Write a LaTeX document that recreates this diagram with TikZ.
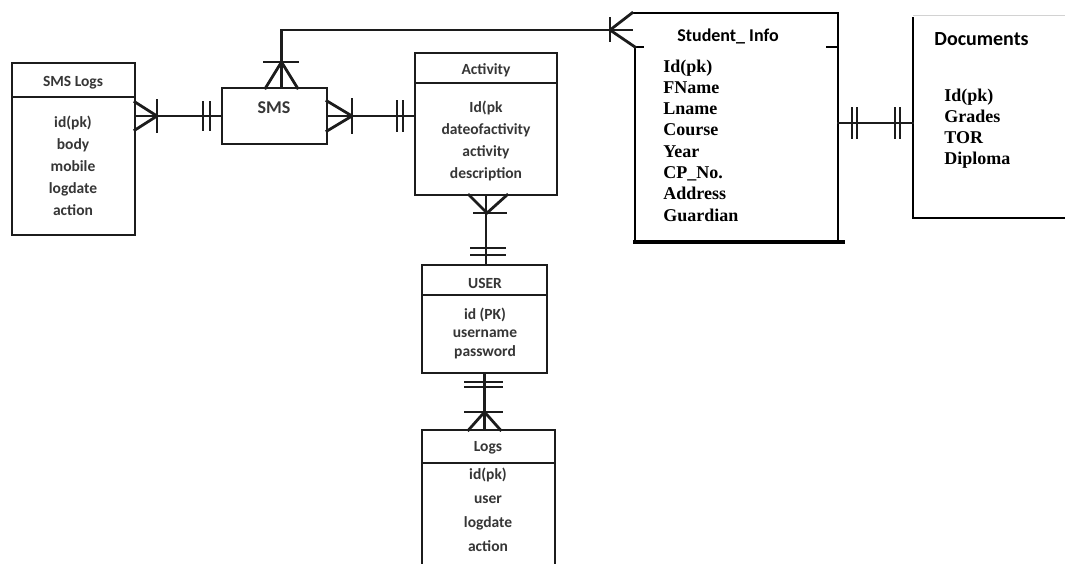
\documentclass[tikz,border=0pt]{standalone}
\usepackage{fontspec}
\setmainfont{Liberation Serif}
\newfontfamily\calfont{Carlito}
\usetikzlibrary{calc}
\definecolor{ink}{HTML}{1C1C1C}
\definecolor{txt}{HTML}{363636}
\begin{document}
\begin{tikzpicture}[x=1pt,y=-1pt,line width=2.8pt,line cap=rect,
  ent/.style={draw=ink,anchor=north west,inner sep=0pt,outer sep=0pt},
  ghost/.style={anchor=north west,inner sep=0pt,outer sep=0pt},
  lnk/.style={draw=ink,line width=2.8pt},
  bar/.style={draw=ink,line width=2.6pt},
  smalltxt/.style={font=\calfont\bfseries\fontsize{15.5}{17}\selectfont,text=txt,inner sep=0pt,anchor=base},
  bigattr/.style={font=\bfseries\fontsize{18}{20}\selectfont,text=black,inner sep=0pt,anchor=base west},
  bighead/.style={font=\calfont\bfseries\fontsize{18}{20}\selectfont,text=black,inner sep=0pt,anchor=base}]
\clip (0,0) rectangle (1065,563);
\fill[white] (0,0) rectangle (1065,563);

% ---------- entity boxes ----------
\node[ent,minimum width=123pt,minimum height=172pt] (smslogs) at (12,63) {};
\draw[ink] ([yshift=-34pt]smslogs.north west) -- ([yshift=-34pt]smslogs.north east);

\node[ent,minimum width=105pt,minimum height=56pt] (sms) at (222,88) {};

\node[ent,minimum width=142pt,minimum height=142pt] (activity) at (415,53) {};
\draw[ink] ([yshift=-30pt]activity.north west) -- ([yshift=-30pt]activity.north east);

\node[ent,minimum width=125pt,minimum height=108pt] (user) at (422,265) {};
\draw[ink] ([yshift=-30pt]user.north west) -- ([yshift=-30pt]user.north east);

\node[ent,minimum width=133pt,minimum height=160pt] (logs) at (422,430) {};
\draw[ink] ([yshift=-33pt]logs.north west) -- ([yshift=-33pt]logs.north east);

% Student_Info (open frame)
\node[ghost,minimum width=206pt,minimum height=229pt] (student) at (632,13) {};
\draw[black,line width=2.6pt] (student.north west) -- (student.north east) -- (student.south east);
\draw[black,line width=2.6pt] ($(student.north west)+(3,34)$) -- ($(student.south west)+(3,0)$);
\draw[black,line width=3.6pt] ($(student.south west)+(3,0)$) -- ($(student.south east)+(5,0)$);
\draw[black,line width=2.4pt] ($(student.north west)+(3,34)$) -- ++(8,0);
\draw[black,line width=2.4pt] ($(student.north east)+(-11,34)$) -- ($(student.north east)+(0,34)$);

% Documents (open frame)
\node[ghost,minimum width=170pt,minimum height=203pt] (docs) at (913,15) {};
\draw[gray!35,line width=1pt] (docs.north west) -- (docs.north east);
\draw[black,line width=2.6pt] ($(docs.north west)+(0,3)$) -- (docs.south west) -- (docs.south east);

% ---------- texts ----------
\node[smalltxt] (slh) at (73,86) {SMS Logs};
\foreach \t [count=\i] in {{id(pk)},{body},{mobile},{logdate},{action}}
  \node[smalltxt] (sl\i) at (73,{127+22*(\i-1)}) {\t};

\node[smalltxt,font=\calfont\bfseries\fontsize{18}{20}\selectfont] (smsh) at (274,113) {SMS};

\node[smalltxt] (acth) at (486,74) {Activity};
\foreach \t [count=\i] in {{Id(pk},{dateofactivity},{activity},{description}}
  \node[smalltxt] (act\i) at (486,{112+22*(\i-1)}) {\t};

\node[smalltxt] (userh) at (485,288) {USER};
\foreach \t [count=\i] in {{id (PK)},{username},{password}}
  \node[smalltxt] (usr\i) at (485,{319+18.5*(\i-1)}) {\t};

\node[smalltxt] (logsh) at (488,451) {Logs};
\foreach \t [count=\i] in {{id(pk)},{user},{logdate},{action}}
  \node[smalltxt] (lg\i) at (488,{479+24*(\i-1)}) {\t};

\node[bighead] (stuh) at (728,41) {Student\_ Info};
\foreach \t [count=\i] in {{Id(pk)},{FName},{Lname},{Course},{Year},{CP\_No.},{Address},{Guardian}}
  \node[bigattr] (stu\i) at (662,{72+21.3*(\i-1)}) {\t};

\node[bighead,anchor=base west,font=\calfont\bfseries\fontsize{20}{22}\selectfont] (doch) at (933,45) {Documents};
\foreach \t [count=\i] in {{Id(pk)},{Grades},{TOR},{Diploma}}
  \node[bigattr] (doc\i) at (943,{101+21*(\i-1)}) {\t};

% ---------- connectors ----------
% SMS Logs -- SMS
\coordinate (p1) at (smslogs.east |- sms.west);
\draw[lnk] (p1) -- (sms.west);
\draw[lnk] ($(p1)+(0,-14)$) -- ($(p1)+(22,0)$) -- ($(p1)+(0,14)$);
\draw[bar] ($(p1)+(22,-16)$) -- ($(p1)+(22,16)$);
\draw[bar] ($(sms.west)+(-19,-14)$) -- ($(sms.west)+(-19,14)$);
\draw[bar] ($(sms.west)+(-12,-14)$) -- ($(sms.west)+(-12,14)$);

% SMS -- Activity
\coordinate (p2) at (sms.east -| activity.west);
\draw[lnk] (sms.east) -- (p2);
\draw[lnk] ($(sms.east)+(0,-15)$) -- ($(sms.east)+(25,0)$) -- ($(sms.east)+(0,15)$);
\draw[bar] ($(sms.east)+(25,-17)$) -- ($(sms.east)+(25,17)$);
\draw[bar] ($(p2)+(-18,-15)$) -- ($(p2)+(-18,15)$);
\draw[bar] ($(p2)+(-12,-15)$) -- ($(p2)+(-12,15)$);

% SMS -- Student_Info
\coordinate (s0) at ($(sms.north)+(7,0)$);
\coordinate (p3) at ($(student.north west)+(0,17)$);
\draw[lnk] (s0) |- (p3);
\draw[lnk] ($(s0)+(-16,0)$) -- ($(s0)+(0,-26)$) -- ($(s0)+(16,0)$);
\draw[bar] ($(s0)+(-17,-26)$) -- ($(s0)+(16,-26)$);
\draw[lnk] (student.north west) -- ($(p3)+(-22,0)$) -- ($(student.north west)+(3,34)$);
\draw[bar] ($(p3)+(-22,-12)$) -- ($(p3)+(-22,11)$);

% Student_Info -- Documents
\coordinate (p4) at ($(student.north east)+(0,110)$);
\coordinate (p5) at (p4 -| docs.west);
\draw[lnk] (p4) -- (p5);
\draw[bar] ($(p4)+(14,-15)$) -- ($(p4)+(14,15)$);
\draw[bar] ($(p4)+(19,-15)$) -- ($(p4)+(19,15)$);
\draw[bar] ($(p5)+(-18,-15)$) -- ($(p5)+(-18,15)$);
\draw[bar] ($(p5)+(-13,-15)$) -- ($(p5)+(-13,15)$);

% Activity -- USER
\coordinate (p6) at (activity.south |- user.north);
\draw[lnk] (activity.south) -- (p6);
\draw[lnk] ($(activity.south)+(-17,0)$) -- ($(activity.south)+(1,18)$) -- ($(activity.south)+(21,0)$);
\draw[bar] ($(activity.south)+(-12,18)$) -- ($(activity.south)+(20,18)$);
\draw[bar] ($(p6)+(-15,-17)$) -- ($(p6)+(19,-17)$);
\draw[bar] ($(p6)+(-15,-10)$) -- ($(p6)+(19,-10)$);

% USER -- Logs
\coordinate (p7) at (user.south |- logs.north);
\draw[lnk] (user.south) -- (p7);
\draw[bar] ($(user.south)+(-19,9)$) -- ($(user.south)+(17,9)$);
\draw[bar] ($(user.south)+(-19,14)$) -- ($(user.south)+(17,14)$);
\draw[lnk] ($(p7)+(-16,0)$) -- ($(p7)+(0,-18)$) -- ($(p7)+(16,0)$);
\draw[bar] ($(p7)+(-19,-18)$) -- ($(p7)+(17,-18)$);
\end{tikzpicture}
\end{document}
